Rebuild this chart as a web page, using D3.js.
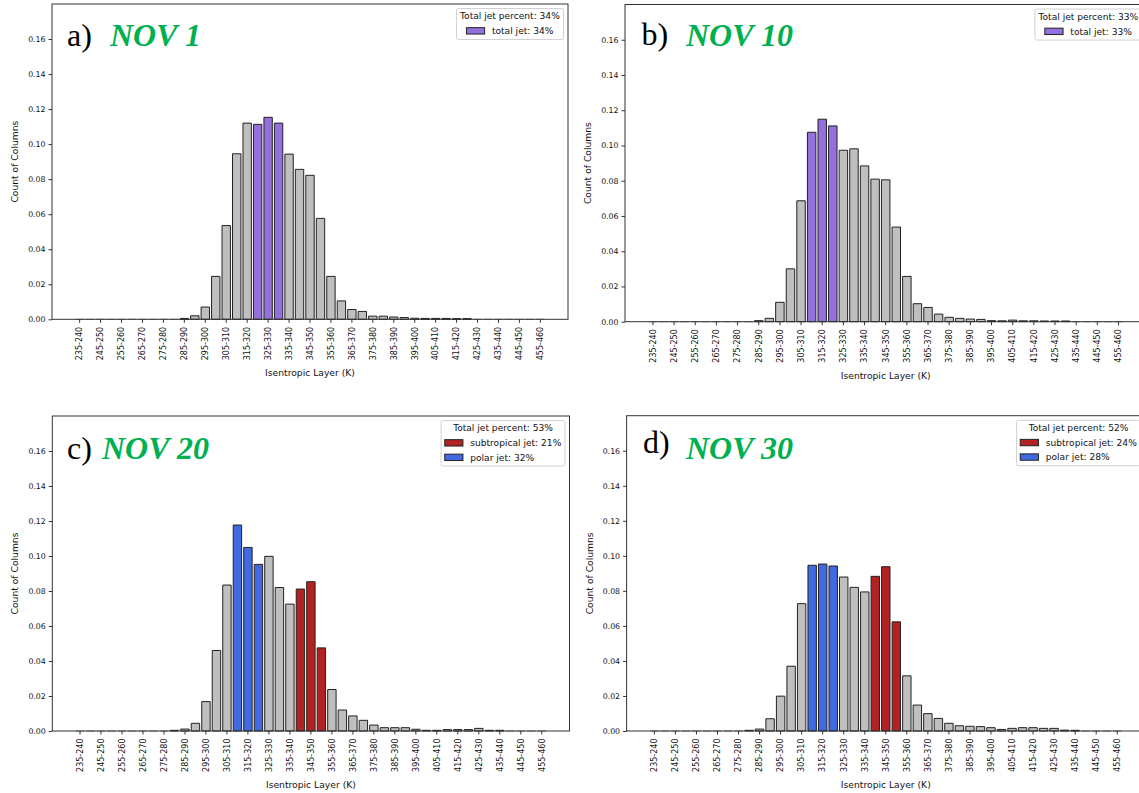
<!DOCTYPE html>
<html><head><meta charset="utf-8">
<script src="https://cdn.jsdelivr.net/npm/d3@7"></script>
<style>body{margin:0;background:#fff}svg{display:block}</style>
</head><body>
<svg id="chart" width="1139" height="793"></svg>
<script>
// ---------- DATA ----------
const layers = ["235-240","240-245","245-250","250-255","255-260","260-265","265-270","270-275","275-280","280-285",
  "285-290","290-295","295-300","300-305","305-310","310-315","315-320","320-325","325-330","330-335",
  "335-340","340-345","345-350","350-355","355-360","360-365","365-370","370-375","375-380","380-385",
  "385-390","390-395","395-400","400-405","405-410","410-415","415-420","420-425","425-430","430-435",
  "435-440","440-445","445-450","450-455","455-460"];
const xTickLabels = ["235-240","245-250","255-260","265-270","275-280","285-290","295-300","305-310","315-320","325-330",
  "335-340","345-350","355-360","365-370","375-380","385-390","395-400","405-410","415-420","425-430","435-440","445-450","455-460"];
const yTickValues = [0.00,0.02,0.04,0.06,0.08,0.10,0.12,0.14,0.16];

const nov1Values = [0,0,0,0,0,0,0,0,0,0,
  0.0005,0.0020,0.0070,0.0245,0.0535,0.0945,0.1120,0.1113,0.1153,0.1120,
  0.0943,0.0856,0.0822,0.0576,0.0245,0.0105,0.0056,0.0045,0.0018,0.0018,
  0.0013,0.0010,0.0006,0.0005,0.0005,0.0005,0.0004,0.0004,0,0,
  0,0,0,0,0];
const nov10Values = [0,0,0,0,0,0,0,0,0,0,
  0.0006,0.0019,0.0110,0.0300,0.0686,0.1075,0.1149,0.1111,0.0973,0.0981,
  0.0884,0.0809,0.0805,0.0537,0.0257,0.0102,0.0081,0.0043,0.0025,0.0019,
  0.0015,0.0013,0.0006,0.0005,0.0009,0.0005,0.0005,0.0004,0.0004,0.0004,
  0,0,0,0,0];
const nov20Values = [0,0,0,0,0,0,0,0,0,0.0004,
  0.0011,0.0044,0.0168,0.0460,0.0834,0.1177,0.1049,0.0952,0.0998,0.0820,
  0.0725,0.0811,0.0853,0.0475,0.0237,0.0120,0.0086,0.0061,0.0034,0.0019,
  0.0019,0.0019,0.0010,0.0004,0.0004,0.0008,0.0008,0.0008,0.0015,0.0004,
  0.0004,0,0,0,0];
const nov30Values = [0,0,0,0,0,0,0,0,0,0.0004,
  0.0011,0.0070,0.0199,0.0370,0.0727,0.0946,0.0953,0.0942,0.0879,0.0820,
  0.0794,0.0883,0.0938,0.0623,0.0315,0.0148,0.0099,0.0072,0.0044,0.0030,
  0.0027,0.0025,0.0019,0.0009,0.0015,0.0019,0.0019,0.0015,0.0015,0.0005,
  0.0004,0,0,0,0];

const nov1TotalJetBins = ["320-325","325-330","330-335"];
const nov10TotalJetBins = ["310-315","315-320","320-325"];
const nov20PolarBins = ["310-315","315-320","320-325"];
const nov20SubtropicalBins = ["340-345","345-350","350-355"];
const nov30PolarBins = ["310-315","315-320","320-325"];
const nov30SubtropicalBins = ["340-345","345-350","350-355"];

const legendTitles = ["Total jet percent: 34%","Total jet percent: 33%","Total jet percent: 53%","Total jet percent: 52%"];
const nov1LegendLabels = ["total jet: 34%"];
const nov10LegendLabels = ["total jet: 33%"];
const nov20LegendLabels = ["subtropical jet: 21%","polar jet: 32%"];
const nov30LegendLabels = ["subtropical jet: 24%","polar jet: 28%"];
const panelLetters = ["a)","b)","c)","d)"];
const panelDates = ["NOV 1","NOV 10","NOV 20","NOV 30"];
const xAxisTitle = "Isentropic Layer (K)";
const yAxisTitle = "Count of Columns";

// ---------- STYLE / LAYOUT ----------
const C_GREY = "#bfbfbf", C_PURPLE = "#9370db", C_RED = "#b22222", C_BLUE = "#4169e1";
const FONT = "DejaVu Sans, sans-serif";
const TICK_FS = 7.8, XTICK_FS = 8.0, LEG_FS = 9.1, LAB_FS = 9.2;
const TEXT_C = "#111";

const panels = [
  {values: nov1Values, jets: [{bins: nov1TotalJetBins, color: C_PURPLE, label: nov1LegendLabels[0]}],
   legendTitle: legendTitles[0], letter: panelLetters[0], date: panelDates[0],
   box: {l: 52, t: 4, r: 568, b: 319.3}, letterPos: [67, 46], datePos: [110, 46]},
  {values: nov10Values, jets: [{bins: nov10TotalJetBins, color: C_PURPLE, label: nov10LegendLabels[0]}],
   legendTitle: legendTitles[1], letter: panelLetters[1], date: panelDates[1],
   box: {l: 625, t: 4.5, r: 1146.4, b: 321.7}, letterPos: [641.5, 45], datePos: [686, 46]},
  {values: nov20Values, jets: [{bins: nov20SubtropicalBins, color: C_RED, label: nov20LegendLabels[0]},
                               {bins: nov20PolarBins, color: C_BLUE, label: nov20LegendLabels[1]}],
   legendTitle: legendTitles[2], letter: panelLetters[2], date: panelDates[2],
   box: {l: 52.3, t: 416, r: 569.5, b: 731}, letterPos: [67, 459], datePos: [102, 459]},
  {values: nov30Values, jets: [{bins: nov30SubtropicalBins, color: C_RED, label: nov30LegendLabels[0]},
                               {bins: nov30PolarBins, color: C_BLUE, label: nov30LegendLabels[1]}],
   legendTitle: legendTitles[3], letter: panelLetters[3], date: panelDates[3],
   box: {l: 626.6, t: 415.7, r: 1145, b: 731}, letterPos: [643, 453], datePos: [686, 459]}
];

const svg = d3.select("#chart");

function drawPanel(p) {
  const {l, t, r, b} = p.box;
  const g = svg.append("g");
  // matplotlib-like categorical bars: width 0.8, 5% margins
  const x = d3.scaleBand().domain(layers).range([l, r]).paddingInner(0.2).paddingOuter(2.24);
  const y = d3.scaleLinear().domain([0, 0.18]).range([b, t]);

  const colorOf = (cat) => {
    for (const j of p.jets) if (j.bins.includes(cat)) return j.color;
    return C_GREY;
  };
  const data = layers.map((c, i) => ({cat: c, v: p.values[i]}));

  g.selectAll("path.bar").data(data).join("path")
    .attr("class", "bar")
    .attr("d", d => {
      const x0 = x(d.cat), w = x.bandwidth(), y0 = y(0), y1 = y(d.v);
      return `M${x0},${y0}V${y1}H${x0 + w}V${y0}Z`;
    })
    .attr("fill", d => colorOf(d.cat))
    .attr("stroke", d => d.v > 0 ? "#222" : "#a8a8a8")
    .attr("stroke-width", 1);

  // frame
  g.append("rect").attr("x", l).attr("y", t).attr("width", r - l).attr("height", b - t)
    .attr("fill", "none").attr("stroke", "#333").attr("stroke-width", 1);

  // y axis
  const ya = g.append("g").attr("transform", `translate(${l},0)`)
    .call(d3.axisLeft(y).tickValues(yTickValues).tickFormat(d3.format(".2f")).tickSize(3.5).tickPadding(3));
  ya.select(".domain").remove();
  ya.selectAll("line").attr("stroke", "#333");
  ya.selectAll("text").attr("font-family", FONT).attr("font-size", TICK_FS).attr("fill", TEXT_C);

  // x axis
  const xa = g.append("g").attr("transform", `translate(0,${b})`)
    .call(d3.axisBottom(x).tickValues(xTickLabels).tickSize(3.5).tickPadding(3));
  xa.select(".domain").remove();
  xa.selectAll("line").attr("stroke", "#333");
  xa.selectAll("text").attr("font-family", FONT).attr("font-size", XTICK_FS).attr("fill", TEXT_C)
    .attr("transform", "rotate(-90)").attr("text-anchor", "end")
    .attr("x", -7.5).attr("y", 0).attr("dy", "0.35em");

  // axis titles
  g.append("text").attr("x", (l + r) / 2).attr("y", b + 57).attr("text-anchor", "middle")
    .attr("font-family", FONT).attr("font-size", LAB_FS).attr("fill", TEXT_C).text(xAxisTitle);
  g.append("text").attr("transform", `translate(${l - 34},${(t + b) / 2}) rotate(-90)`)
    .attr("text-anchor", "middle").attr("font-family", FONT).attr("font-size", LAB_FS).attr("fill", TEXT_C)
    .text(yAxisTitle);

  // panel titles
  g.append("text").attr("x", p.letterPos[0]).attr("y", p.letterPos[1])
    .attr("font-family", "Liberation Serif, Times New Roman, serif").attr("font-size", 32).attr("fill", "#000")
    .text(p.letter);
  g.append("text").attr("x", p.datePos[0]).attr("y", p.datePos[1])
    .attr("font-family", "Liberation Serif, Times New Roman, serif").attr("font-size", 32)
    .attr("font-weight", "bold").attr("font-style", "italic").attr("fill", "#00b050")
    .text(p.date);

  // legend
  const em = LEG_FS;
  const lg = g.append("g");
  const box = lg.append("rect");
  const titleT = lg.append("text").attr("font-family", FONT).attr("font-size", LEG_FS).attr("fill", TEXT_C)
    .attr("text-anchor", "middle").text(p.legendTitle);
  const titleW = titleT.node().getComputedTextLength();
  const labels = p.jets.map(j => lg.append("text").attr("font-family", FONT).attr("font-size", LEG_FS)
    .attr("fill", TEXT_C).text(j.label));
  const maxLab = d3.max(labels, s => s.node().getComputedTextLength());
  const handleW = 2 * em, handleH = 0.7 * em, hPad = 0.8 * em;
  const entryW = handleW + hPad + maxLab;
  const inner = Math.max(titleW, entryW);
  const W = inner + 0.8 * em;
  const H = 31 + 14.5 * (p.jets.length - 1);
  const right = r - 0.5 * em, top = t + 0.5 * em;
  const left = right - W;
  box.attr("x", left).attr("y", top).attr("width", W).attr("height", H).attr("rx", 2)
    .attr("fill", "#fff").attr("fill-opacity", 0.8).attr("stroke", "#d0d0d0").attr("stroke-width", 1);
  titleT.attr("x", left + W / 2).attr("y", top + 7.6).attr("dy", "0.35em");
  const ex = left + (W - entryW) / 2;
  p.jets.forEach((j, i) => {
    const cy = top + 22.3 + 14.5 * i;
    lg.append("rect").attr("x", ex).attr("y", cy - handleH / 2).attr("width", handleW).attr("height", handleH)
      .attr("fill", j.color).attr("stroke", "#222").attr("stroke-width", 1);
    labels[i].attr("x", ex + handleW + hPad).attr("y", cy).attr("dy", "0.35em");
  });
}

panels.forEach(drawPanel);
</script>
</body></html>
